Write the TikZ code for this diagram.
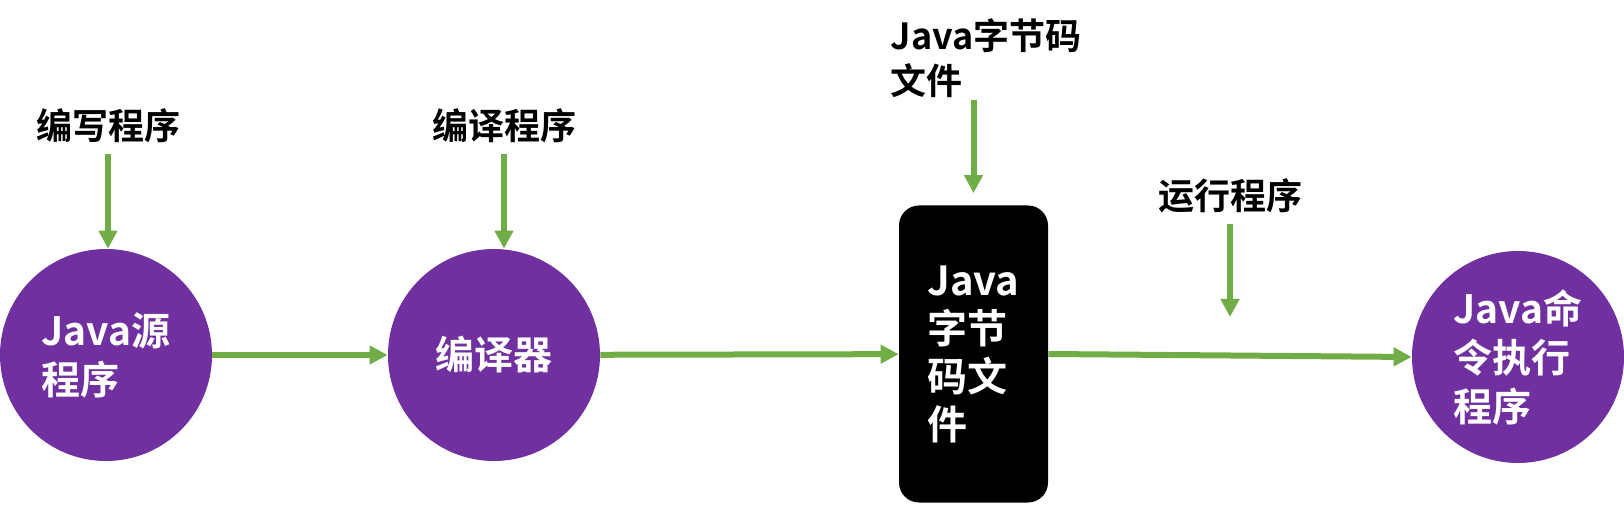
\documentclass[tikz,border=0pt]{standalone}
\usepackage{fontspec}
\usepackage{tikz}
\usetikzlibrary{arrows.meta}
\newfontfamily\cjk{Noto Sans CJK SC}[UprightFont=* Medium,BoldFont=* Bold]
\definecolor{stagefill}{HTML}{7030A0}
\definecolor{flow}{HTML}{70AD47}
\tikzset{
  stage/.style={circle,fill=stagefill,minimum size=106pt,inner sep=0pt,text=white,
    font=\cjk\bfseries\fontsize{19.5}{24.5}\selectfont,align=left},
  filebox/.style={rectangle,rounded corners=10pt,fill=black,minimum width=74.5pt,
    minimum height=148.5pt,inner sep=0pt,text=white,
    font=\cjk\bfseries\fontsize{20}{24}\selectfont,align=left},
  note/.style={font=\cjk\bfseries\fontsize{18}{22.5}\selectfont,inner sep=0pt},
  flowline/.style={draw=flow,line width=3pt,-{Triangle[width=9pt,length=9pt]}}
}
\begin{document}
\begin{tikzpicture}[x=0.5pt,y=0.5pt]
  \useasboundingbox (0,0) rectangle (1624,504);
  % stages
  \node[stage] (src) at (106,149) {Java源\\程序};
  \node[stage] (comp) at (494,149) {编译器};
  \node[filebox] (bytecode) at (973.5,150) {Java\\字节\\码文\\件};
  \node[stage] (run) at (1518,147) {Java命\\令执行\\程序};
  % labels above
  \node[note] (writelab) at (108,378) {编写程序};
  \node[note] (complab) at (504,378) {编译程序};
  \node[note,align=left] (bytelab) at (986,446) {Java字节码\\文件};
  \node[note] (runlab) at (1230,308) {运行程序};
  \coordinate (runtip) at (1230,187);
  % flow
  \draw[flowline] (src) -- (comp);
  \draw[flowline] (comp) -- (bytecode);
  \draw[flowline] (bytecode.east) -- (run.west);
  \draw[flowline,shorten <=5pt] (writelab.south) -- (writelab.south |- src.north);
  \draw[flowline,shorten <=5pt] (complab.south) -- (complab.south |- comp.north);
  \draw[flowline,shorten <=1pt,shorten >=6pt] (bytelab.south -| bytecode.north) -- (bytecode.north);
  \draw[flowline,shorten <=5pt] (runlab.south) -- (runtip);
\end{tikzpicture}
\end{document}
